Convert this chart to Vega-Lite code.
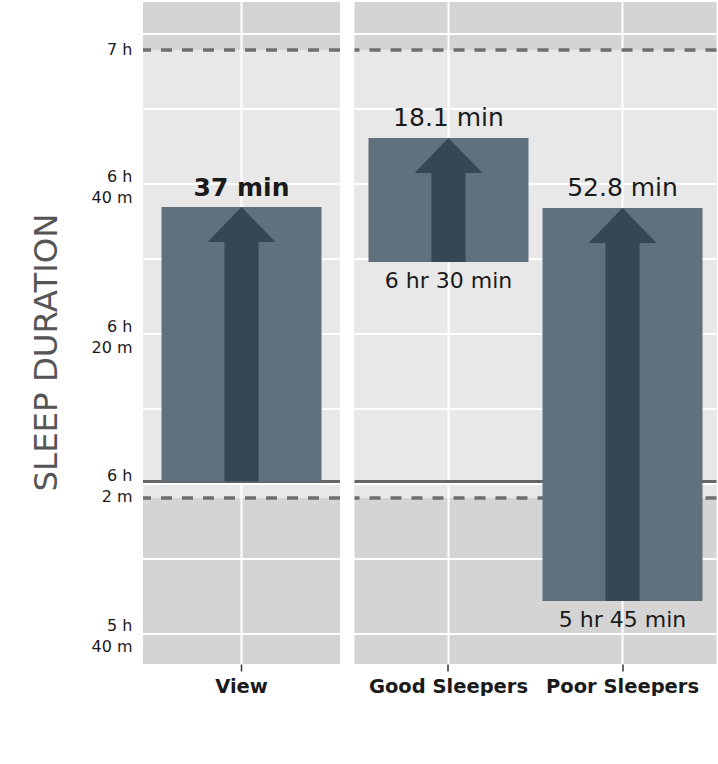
{
  "$schema": "https://vega.github.io/schema/vega-lite/v6.json",
  "padding": {"left": 30, "top": 1, "right": 0, "bottom": 0},
  "spacing": 10.5,
  "config": {
    "view": {"stroke": null, "fill": "#d4d4d4"},
    "font": "DejaVu Sans",
    "axisY": {
      "grid": false, "ticks": false, "domain": false,
      "labelFont": "DejaVu Sans", "labelFontSize": 16, "labelColor": "#1a1a1a",
      "labelPadding": 11, "labelLineHeight": 21,
      "titleFont": "DejaVu Sans", "titleFontSize": 32.4, "titleFontWeight": "normal",
      "titleColor": "#555555", "titlePadding": 27
    },
    "axisX": {
      "grid": false, "domain": false, "ticks": true,
      "tickColor": "#333333", "tickSize": 7, "tickWidth": 1.5,
      "labelFont": "DejaVu Sans", "labelFontSize": 19.5, "labelFontWeight": "bold",
      "labelColor": "#1a1a1a", "labelPadding": 6, "labelAngle": 0
    }
  },
  "datasets": {
    "bars": [
      {"panel": "left", "group": "View", "v": 396.93, "lo": 360.33, "change": "37 min", "base": ""},
      {"panel": "right", "group": "Good Sleepers", "v": 406.13, "lo": 389.6, "change": "18.1 min", "base": "6 hr 30 min"},
      {"panel": "right", "group": "Poor Sleepers", "v": 396.8, "lo": 344.4, "change": "52.8 min", "base": "5 hr 45 min"}
    ],
    "grid": [
      {"v": 340}, {"v": 350}, {"v": 360}, {"v": 370}, {"v": 380},
      {"v": 390}, {"v": 400}, {"v": 410}, {"v": 420}
    ],
    "band": [{"v": 417.87, "lo": 358.13}],
    "dashed": [{"v": 417.87}, {"v": 358.13}],
    "baseline": [{"v": 360.33}]
  },
  "hconcat": [
    {
      "width": 197,
      "height": 662,
      "layer": [
        {
          "data": {"name": "band"},
          "mark": {"type": "rect", "color": "#e8e8e8"},
          "encoding": {
            "x": {"value": 0},
            "x2": {"value": "width"},
            "y": {
              "field": "v", "type": "quantitative",
              "scale": {"domain": [336, 424.27], "nice": false, "zero": false},
              "axis": {
                "values": [341.2, 361.07, 380.94, 400.94, 417.87],
                "labelExpr": "datum.value > 410 ? '7 h' : datum.value > 390 ? ['6 h', '40 m'] : datum.value > 370 ? ['6 h', '20 m'] : datum.value > 350 ? ['6 h', '2 m'] : ['5 h', '40 m']",
                "title": "SLEEP DURATION",
                "titleY": 350
              }
            },
            "y2": {"field": "lo"}
          }
        },
        {
          "data": {"name": "grid"},
          "mark": {"type": "rule", "color": "white", "strokeWidth": 2},
          "encoding": {
            "y": {"field": "v", "type": "quantitative", "scale": {"domain": [336, 424.27], "nice": false, "zero": false}}
          }
        },
        {
          "data": {"name": "bars"},
          "transform": [{"filter": "datum.panel == 'left'"}],
          "mark": {"type": "rule", "color": "white", "strokeWidth": 2},
          "encoding": {
            "x": {
              "field": "group", "type": "nominal", "bandPosition": 0.5,
              "scale": {"domain": ["View"], "paddingInner": 0, "paddingOuter": 0},
              "axis": {"title": null}
            }
          }
        },
        {
          "data": {"name": "dashed"},
          "mark": {"type": "rule", "color": "#6e6e6e", "strokeWidth": 3.5, "strokeDash": [11, 10]},
          "encoding": {
            "y": {"field": "v", "type": "quantitative", "scale": {"domain": [336, 424.27], "nice": false, "zero": false}}
          }
        },
        {
          "data": {"name": "baseline"},
          "mark": {"type": "rule", "color": "#666666", "strokeWidth": 3},
          "encoding": {
            "y": {"field": "v", "type": "quantitative", "scale": {"domain": [336, 424.27], "nice": false, "zero": false}}
          }
        },
        {
          "data": {"name": "bars"},
          "transform": [{"filter": "datum.panel == 'left'"}],
          "layer": [
            {
              "mark": {"type": "bar", "width": 160, "color": "#5f717d"},
              "encoding": {"y2": {"field": "lo"}}
            },
            {
              "mark": {"type": "bar", "width": 34, "color": "#334756", "yOffset": 34},
              "encoding": {"y2": {"field": "lo"}}
            },
            {
              "mark": {"type": "point", "shape": "M0,0L1,1.03L-1,1.03Z", "size": 4624, "filled": true, "opacity": 1, "color": "#334756", "strokeWidth": 0}
            },
            {
              "mark": {"type": "text", "dy": -11, "baseline": "alphabetic", "fontSize": 25, "fontWeight": "bold", "color": "#1a1a1a"},
              "encoding": {"text": {"field": "change"}}
            }
          ],
          "encoding": {
            "x": {"field": "group", "type": "nominal", "scale": {"domain": ["View"], "paddingInner": 0, "paddingOuter": 0}},
            "y": {"field": "v", "type": "quantitative", "scale": {"domain": [336, 424.27], "nice": false, "zero": false}}
          }
        }
      ]
    },
    {
      "width": 362,
      "height": 662,
      "layer": [
        {
          "data": {"name": "band"},
          "mark": {"type": "rect", "color": "#e8e8e8"},
          "encoding": {
            "x": {"value": 0},
            "x2": {"value": "width"},
            "y": {"field": "v", "type": "quantitative", "scale": {"domain": [336, 424.27], "nice": false, "zero": false}, "axis": null},
            "y2": {"field": "lo"}
          }
        },
        {
          "data": {"name": "grid"},
          "mark": {"type": "rule", "color": "white", "strokeWidth": 2},
          "encoding": {
            "y": {"field": "v", "type": "quantitative", "scale": {"domain": [336, 424.27], "nice": false, "zero": false}, "axis": null}
          }
        },
        {
          "data": {"name": "bars"},
          "transform": [{"filter": "datum.panel == 'right'"}],
          "mark": {"type": "rule", "color": "white", "strokeWidth": 2},
          "encoding": {
            "x": {
              "field": "group", "type": "nominal", "bandPosition": 0.5,
              "scale": {"domain": ["Good Sleepers", "Poor Sleepers"], "paddingInner": 0, "paddingOuter": 0.04},
              "axis": {"title": null}
            }
          }
        },
        {
          "data": {"name": "dashed"},
          "mark": {"type": "rule", "color": "#6e6e6e", "strokeWidth": 3.5, "strokeDash": [11, 10]},
          "encoding": {
            "y": {"field": "v", "type": "quantitative", "scale": {"domain": [336, 424.27], "nice": false, "zero": false}, "axis": null}
          }
        },
        {
          "data": {"name": "baseline"},
          "mark": {"type": "rule", "color": "#666666", "strokeWidth": 3},
          "encoding": {
            "y": {"field": "v", "type": "quantitative", "scale": {"domain": [336, 424.27], "nice": false, "zero": false}, "axis": null}
          }
        },
        {
          "data": {"name": "bars"},
          "transform": [{"filter": "datum.panel == 'right'"}],
          "layer": [
            {
              "mark": {"type": "bar", "width": 160, "color": "#5f717d"},
              "encoding": {"y2": {"field": "lo"}}
            },
            {
              "mark": {"type": "bar", "width": 34, "color": "#334756", "yOffset": 34},
              "encoding": {"y2": {"field": "lo"}}
            },
            {
              "mark": {"type": "point", "shape": "M0,0L1,1.03L-1,1.03Z", "size": 4624, "filled": true, "opacity": 1, "color": "#334756", "strokeWidth": 0}
            },
            {
              "mark": {"type": "text", "dy": -12, "baseline": "alphabetic", "fontSize": 25, "color": "#1a1a1a"},
              "encoding": {"text": {"field": "change"}}
            },
            {
              "mark": {"type": "text", "dy": 26, "baseline": "alphabetic", "fontSize": 22, "color": "#1a1a1a"},
              "encoding": {
                "y": {"field": "lo", "type": "quantitative", "scale": {"domain": [336, 424.27], "nice": false, "zero": false}, "axis": null},
                "text": {"field": "base"}
              }
            }
          ],
          "encoding": {
            "x": {"field": "group", "type": "nominal", "scale": {"domain": ["Good Sleepers", "Poor Sleepers"], "paddingInner": 0, "paddingOuter": 0.04}},
            "y": {"field": "v", "type": "quantitative", "scale": {"domain": [336, 424.27], "nice": false, "zero": false}, "axis": null}
          }
        }
      ]
    }
  ]
}
